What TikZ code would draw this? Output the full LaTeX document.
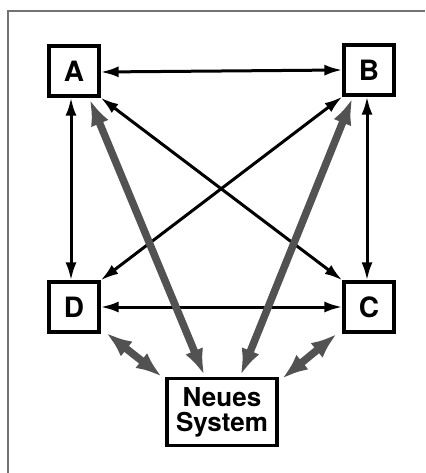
\documentclass[tikz,border=0pt]{standalone}
\usepackage{fontspec}
\newfontfamily\helv{TeX Gyre Heros}
\usetikzlibrary{arrows.meta}

\begin{document}
\begin{tikzpicture}[x=1pt,y=-1pt,
  sysbox/.style={draw, line width=3.2pt, minimum size=50pt, inner sep=0pt,
    font=\helv\bfseries\fontsize{28}{28}\selectfont},
  newbox/.style={draw, line width=3.2pt, minimum width=110pt, minimum height=67pt,
    inner sep=0pt, align=center, font=\helv\bfseries\fontsize{26}{25}\selectfont},
  link/.style={line width=3pt, {Latex[length=18pt,width=11pt]}-{Latex[length=18pt,width=11pt]}},
  grlink/.style={line width=7.5pt, black!68, {Latex[length=26pt,width=19pt]}-{Latex[length=26pt,width=19pt]}, shorten <=2pt, shorten >=2pt}]
\useasboundingbox (0,0) rectangle (425,473);
\draw[black!55, line width=1.2pt] (8,473) -- (8,11) -- (425,11);
\node[sysbox] (A) at (74,71) {A};
\node[sysbox] (B) at (369,70) {B};
\node[sysbox] (D) at (74,307) {D};
\node[sysbox] (C) at (369,307) {C};
\node[newbox] (N) at (222,412) {Neues\\System};
\draw[link] ([yshift=-1pt]A.east) -- (B.west);
\draw[link] ([xshift=-3pt]A.south) -- ([xshift=-3pt]D.north);
\draw[link] ([xshift=-2pt]B.south) -- ([xshift=-2pt]C.north);
\draw[link] (D.east) -- (C.west);
\draw[link] (A.south east) -- (C.north west);
\draw[link] (B.south west) -- (D.north east);
\draw[grlink] ([xshift=15pt]A.south) -- ([xshift=-17pt]N.north);
\draw[grlink] ([xshift=-16pt]B.south) -- ([xshift=18pt]N.north);
\draw[grlink] ([shift={(4pt,2pt)}]D.south east) -- ([shift={(-2pt,-1pt)}]N.north west);
\draw[grlink] ([shift={(-4pt,1pt)}]C.south west) -- ([shift={(2pt,-3pt)}]N.north east);
\end{tikzpicture}
\end{document}
